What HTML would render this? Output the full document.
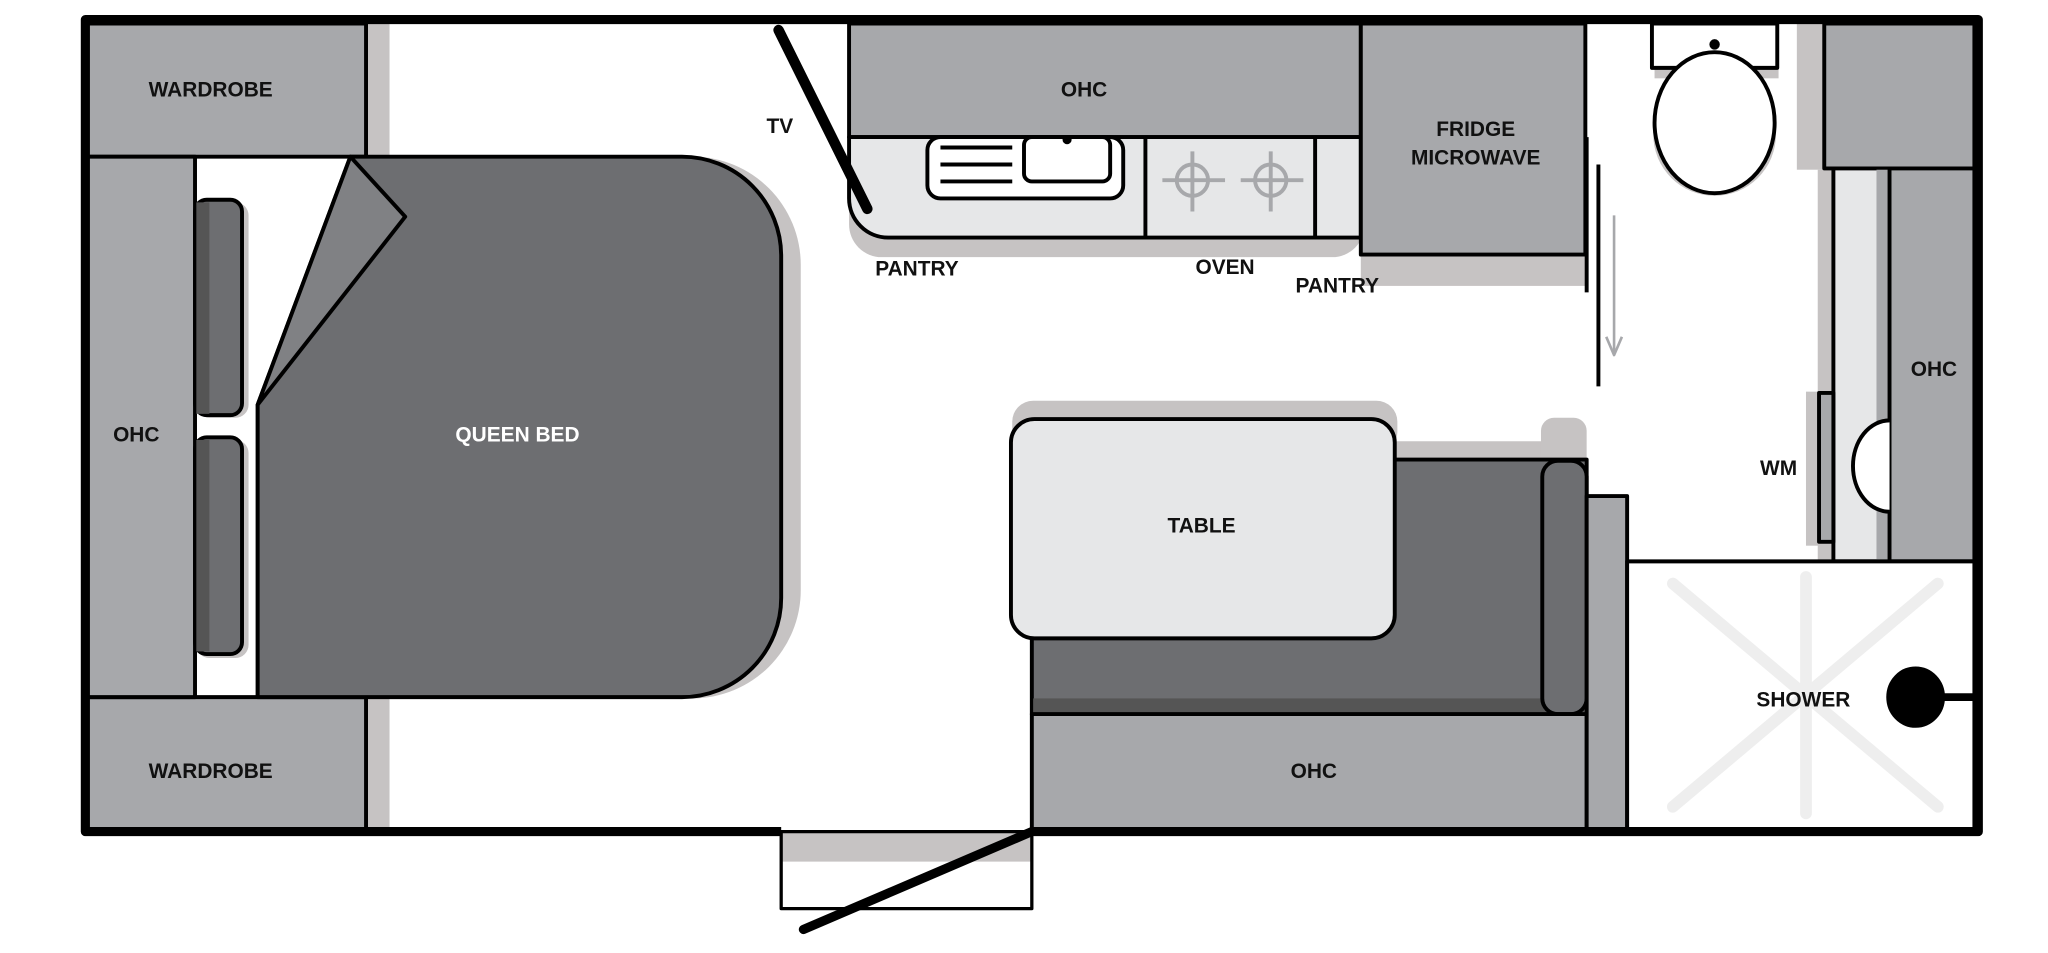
<!DOCTYPE html>
<html><head><meta charset="utf-8"><style>
html,body{margin:0;padding:0;background:#fff;}
svg{display:block;}
text{font-family:"Liberation Sans","DejaVu Sans",sans-serif;font-weight:bold;font-size:16px;fill:#111;text-anchor:middle;}
</style></head><body>
<svg width="2048" height="953" viewBox="0 0 1568 730" xmlns="http://www.w3.org/2000/svg">
<g stroke="#000" stroke-width="3" stroke-linejoin="round">
<!-- shadows -->
<g stroke="none" fill="#c6c3c3">
<rect x="281" y="18" width="17" height="102"/>
<rect x="281" y="534" width="17" height="100"/>
<path d="M280 120 H530 A83 83 0 0 1 613 203 V452 A83 83 0 0 1 530 535 H280Z"/>
<rect x="150" y="155" width="40" height="165" rx="10"/>
<rect x="150" y="337" width="40" height="167" rx="10"/>
<rect x="650" y="105" width="395" height="92" rx="25"/>
<rect x="1042" y="190" width="172" height="29"/>
<rect x="775" y="307" width="295" height="40" rx="16"/>
<rect x="1068" y="338" width="146" height="20"/>
<rect x="1180" y="320" width="35" height="40" rx="10"/>
<rect x="1267" y="40" width="95" height="20"/>
<circle cx="1313" cy="103" r="47"/>
<rect x="1376" y="18" width="21" height="112"/>
<rect x="1392" y="130" width="12" height="300"/>
<rect x="1383" y="300" width="10" height="118"/>
<rect x="598" y="638" width="192" height="22"/>
</g>
<!-- wardrobes -->
<rect x="66" y="18" width="214" height="102" fill="#a7a8ab"/>
<rect x="66" y="534" width="214" height="102" fill="#a7a8ab"/>
<rect x="66" y="120" width="83" height="414" fill="#a7a8ab"/>
<rect x="149" y="153" width="36" height="165" rx="9" fill="#6d6e71"/>
<rect x="149" y="335" width="36" height="166" rx="9" fill="#6d6e71"/>
<rect x="150" y="155" width="10" height="162" fill="#555" stroke="none"/>
<rect x="150" y="337" width="10" height="162" fill="#555" stroke="none"/>
<line x1="197" y1="310" x2="197" y2="534"/>
<!-- bed -->
<path d="M197 310 L268 120 H522 A76 76 0 0 1 598 196 V458 A76 76 0 0 1 522 534 H197Z" fill="#6d6e71"/>
<path d="M197 310 L268 120 L310 166Z" fill="#808184"/>
<!-- kitchen -->
<rect x="650" y="18" width="392" height="87" fill="#a7a8ab"/>
<path d="M650 105 H1042 V182 H680 A30 30 0 0 1 650 152Z" fill="#e6e7e8"/>
<line x1="877" y1="105" x2="877" y2="182"/>
<line x1="1007" y1="105" x2="1007" y2="182"/>
<rect x="710" y="105" width="150" height="47" rx="10" fill="#fff"/>
<rect x="784" y="105" width="66" height="34" rx="6" fill="#fff"/>
<circle cx="817" cy="107" r="2" fill="#000"/>
<line x1="720" y1="113" x2="775" y2="113"/><line x1="720" y1="126" x2="775" y2="126"/><line x1="720" y1="139" x2="775" y2="139"/>
<g stroke="#a7a8ab" fill="none" stroke-width="3">
<circle cx="913" cy="138" r="12"/><line x1="890" y1="138" x2="938" y2="138"/><line x1="913" y1="116" x2="913" y2="162"/>
<circle cx="973" cy="138" r="12"/><line x1="950" y1="138" x2="998" y2="138"/><line x1="973" y1="116" x2="973" y2="162"/>
</g>
<rect x="1042" y="18" width="172" height="177" fill="#a7a8ab"/>
<line x1="596" y1="23" x2="664" y2="160" stroke-width="8" stroke-linecap="round"/>
<!-- door -->
<line x1="1215" y1="105" x2="1215" y2="224" stroke-width="3"/>
<line x1="1224" y1="126" x2="1224" y2="296"/>
<g stroke="#a7a8ab" stroke-width="2" fill="none"><line x1="1236" y1="165" x2="1236" y2="270"/><path d="M1230 258 L1236 272 L1242 258"/></g>
<!-- dinette -->
<rect x="790" y="352" width="425" height="195" fill="#6d6e71"/>
<rect x="791" y="535" width="423" height="11" fill="#555" stroke="none"/>
<rect x="1181" y="353" width="34" height="194" rx="12" fill="#6d6e71"/>
<rect x="774" y="321" width="294" height="168" rx="18" fill="#e6e7e8"/>
<rect x="790" y="547" width="425" height="89" fill="#a7a8ab"/>
<rect x="1215" y="380" width="31" height="256" fill="#a7a8ab"/>
<!-- bathroom -->
<rect x="1265" y="18" width="96" height="34" fill="#fff"/>
<circle cx="1313" cy="34" r="4" fill="#000" stroke="none"/>
<ellipse cx="1313" cy="94" rx="46" ry="54" fill="#fff"/>
<rect x="1397" y="18" width="115" height="111" fill="#a7a8ab"/>
<rect x="1404" y="129" width="43" height="301" fill="#e6e7e8"/>
<rect x="1437" y="130" width="10" height="299" fill="#a7a8ab" stroke="none"/>
<rect x="1447" y="129" width="65" height="301" fill="#a7a8ab"/>
<path d="M1447 322 A28 35 0 0 0 1447 392" fill="#fff"/>
<rect x="1393" y="301" width="11" height="114" fill="#a7a8ab"/>
<rect x="1246" y="430" width="266" height="206" fill="#fff"/>
<g stroke="#eee" stroke-width="9" stroke-linecap="round"><line x1="1281" y1="447" x2="1484" y2="618"/><line x1="1484" y1="447" x2="1281" y2="618"/><line x1="1383" y1="442" x2="1383" y2="623"/></g>
<ellipse cx="1467" cy="534" rx="21" ry="22" fill="#000"/>
<line x1="1480" y1="534" x2="1512" y2="534" stroke-width="6"/>
<!-- outer walls -->
<path d="M598 637 H65 V15 H1515 V637 H790" fill="none" stroke-width="7"/>
<rect x="598" y="637" width="192" height="59" fill="none" stroke-width="2.5"/>
<line x1="615" y1="712" x2="790" y2="637" stroke-width="7" stroke-linecap="round"/>
</g>
<text x="161" y="74">WARDROBE</text>
<text x="161" y="596">WARDROBE</text>
<text x="104" y="338">OHC</text>
<text x="396" y="338" style="fill:#fff">QUEEN BED</text>
<text x="597" y="102">TV</text>
<text x="830" y="74">OHC</text>
<text x="702" y="211">PANTRY</text>
<text x="938" y="210">OVEN</text>
<text x="1024" y="224">PANTRY</text>
<text x="1130" y="104">FRIDGE</text>
<text x="1130" y="126">MICROWAVE</text>
<text x="920" y="408">TABLE</text>
<text x="1006" y="596">OHC</text>
<text x="1481" y="288">OHC</text>
<text x="1362" y="364">WM</text>
<text x="1381" y="541">SHOWER</text>
</svg>
</body></html>
